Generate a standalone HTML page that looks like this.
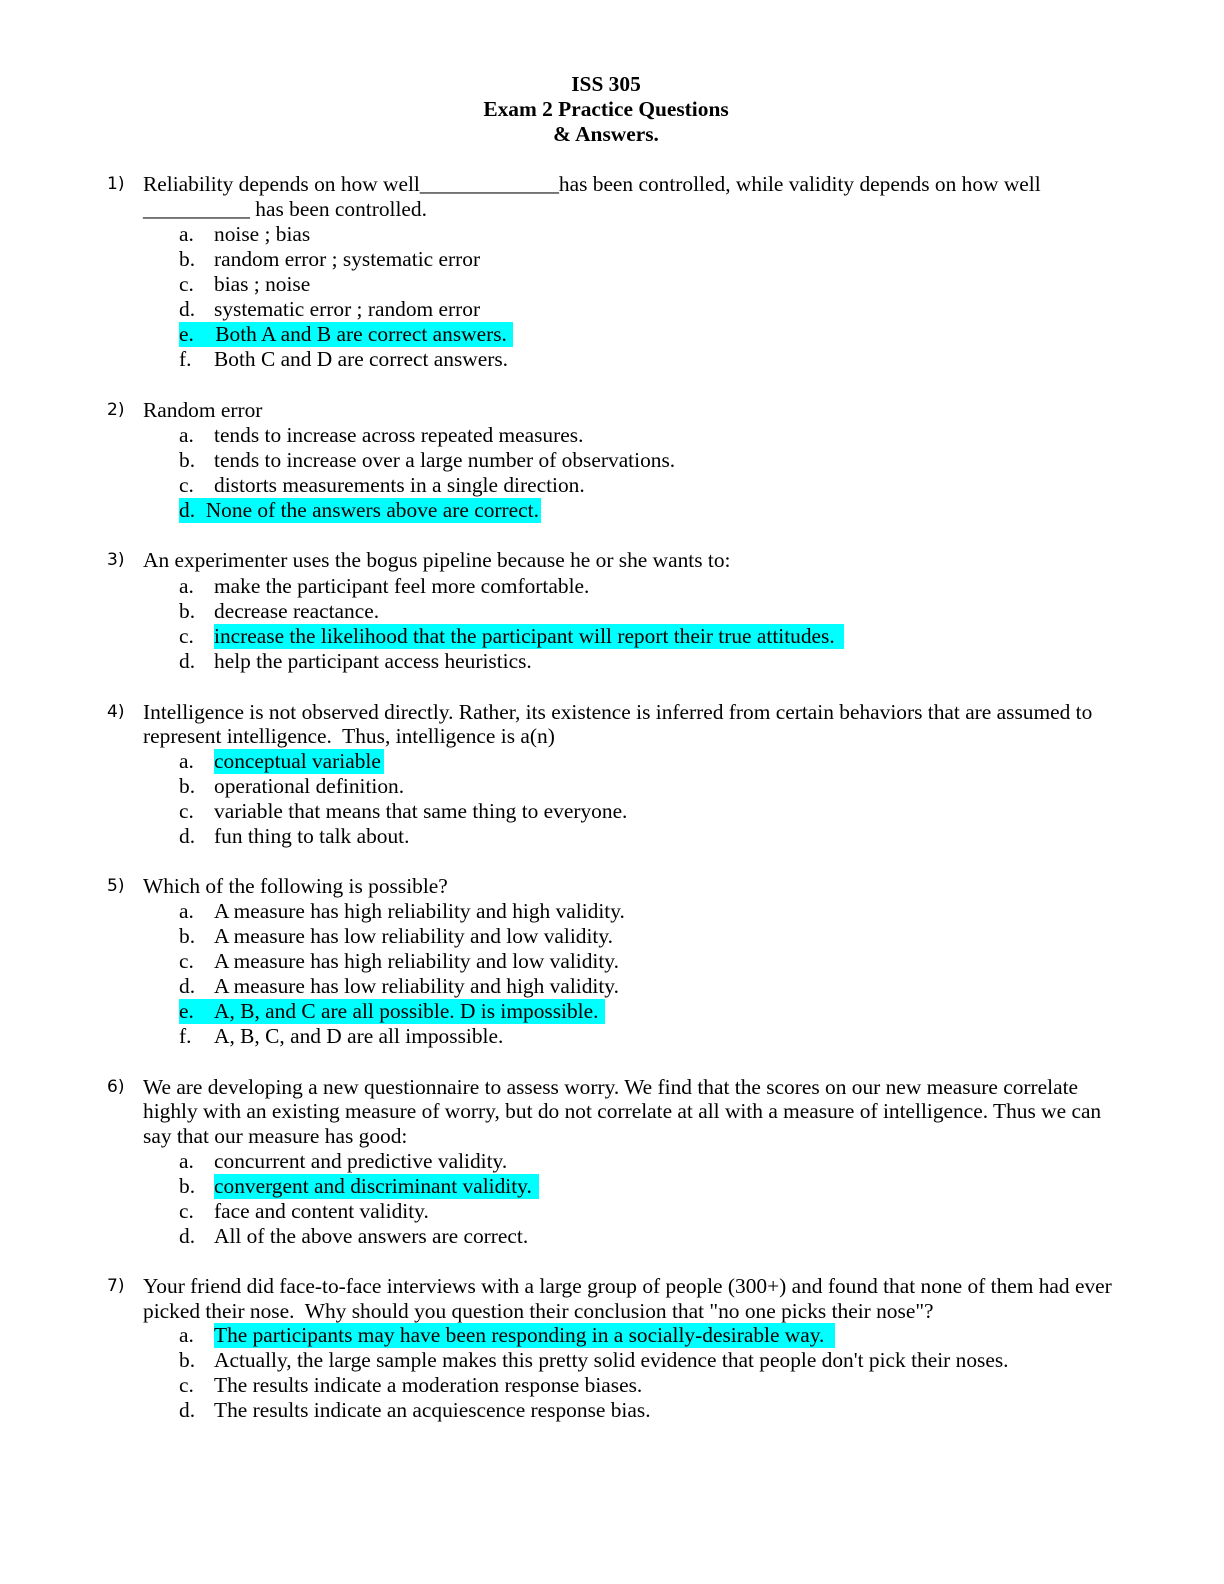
<!DOCTYPE html>
<html><head><meta charset="utf-8"><style>
html,body{margin:0;padding:0;background:#fff;}
body{width:1224px;height:1584px;position:relative;overflow:hidden;font-family:"Liberation Serif",serif;font-size:21.4px;color:#000;}
.l{position:absolute;white-space:pre;line-height:25px;height:25px;}
.t{left:0;width:1212px;text-align:center;font-weight:bold;}
.n{left:107px;font-family:"DejaVu Sans","Liberation Sans",sans-serif;font-size:17px;}
.q{left:143px;}
.a{left:179px;}
.o{left:214px;}
.h{background:#00ffff;}
</style></head><body>
<div class="l t" style="top:72px">ISS 305</div>
<div class="l t" style="top:97px">Exam 2 Practice Questions</div>
<div class="l t" style="top:122px">&amp; Answers.</div>

<div class="l n" style="top:172px">1)</div>
<div class="l q" style="top:172px">Reliability depends on how well_____________has been controlled, while validity depends on how well</div>
<div class="l q" style="top:197px">__________ has been controlled.</div>
<div class="l a" style="top:222px">a.</div><div class="l o" style="top:222px">noise ; bias</div>
<div class="l a" style="top:247px">b.</div><div class="l o" style="top:247px">random error ; systematic error</div>
<div class="l a" style="top:272px">c.</div><div class="l o" style="top:272px">bias ; noise</div>
<div class="l a" style="top:297px">d.</div><div class="l o" style="top:297px">systematic error ; random error</div>
<div class="l a h" style="top:322px;width:334px">e.    Both A and B are correct answers.</div>
<div class="l a" style="top:347px">f.</div><div class="l o" style="top:347px">Both C and D are correct answers.</div>

<div class="l n" style="top:398px">2)</div>
<div class="l q" style="top:398px">Random error</div>
<div class="l a" style="top:423px">a.</div><div class="l o" style="top:423px">tends to increase across repeated measures.</div>
<div class="l a" style="top:448px">b.</div><div class="l o" style="top:448px">tends to increase over a large number of observations.</div>
<div class="l a" style="top:473px">c.</div><div class="l o" style="top:473px">distorts measurements in a single direction.</div>
<div class="l a h" style="top:498px;width:362px">d.  None of the answers above are correct.</div>

<div class="l n" style="top:548px">3)</div>
<div class="l q" style="top:548px">An experimenter uses the bogus pipeline because he or she wants to:</div>
<div class="l a" style="top:574px">a.</div><div class="l o" style="top:574px">make the participant feel more comfortable.</div>
<div class="l a" style="top:599px">b.</div><div class="l o" style="top:599px">decrease reactance.</div>
<div class="l a" style="top:624px">c.</div><div class="l o h" style="top:624px;width:630px">increase the likelihood that the participant will report their true attitudes.</div>
<div class="l a" style="top:649px">d.</div><div class="l o" style="top:649px">help the participant access heuristics.</div>

<div class="l n" style="top:700px">4)</div>
<div class="l q" style="top:700px">Intelligence is not observed directly. Rather, its existence is inferred from certain behaviors that are assumed to</div>
<div class="l q" style="top:724px">represent intelligence.  Thus, intelligence is a(n)</div>
<div class="l a" style="top:749px">a.</div><div class="l o h" style="top:749px;width:170px">conceptual variable</div>
<div class="l a" style="top:774px">b.</div><div class="l o" style="top:774px">operational definition.</div>
<div class="l a" style="top:799px">c.</div><div class="l o" style="top:799px">variable that means that same thing to everyone.</div>
<div class="l a" style="top:824px">d.</div><div class="l o" style="top:824px">fun thing to talk about.</div>

<div class="l n" style="top:874px">5)</div>
<div class="l q" style="top:874px">Which of the following is possible?</div>
<div class="l a" style="top:899px">a.</div><div class="l o" style="top:899px">A measure has high reliability and high validity.</div>
<div class="l a" style="top:924px">b.</div><div class="l o" style="top:924px">A measure has low reliability and low validity.</div>
<div class="l a" style="top:949px">c.</div><div class="l o" style="top:949px">A measure has high reliability and low validity.</div>
<div class="l a" style="top:974px">d.</div><div class="l o" style="top:974px">A measure has low reliability and high validity.</div>
<div class="l a h" style="top:999px;width:426px">e.    A, B, and C are all possible. D is impossible.</div>
<div class="l a" style="top:1024px">f.</div><div class="l o" style="top:1024px">A, B, C, and D are all impossible.</div>

<div class="l n" style="top:1075px">6)</div>
<div class="l q" style="top:1075px">We are developing a new questionnaire to assess worry. We find that the scores on our new measure correlate</div>
<div class="l q" style="top:1099px">highly with an existing measure of worry, but do not correlate at all with a measure of intelligence. Thus we can</div>
<div class="l q" style="top:1124px">say that our measure has good:</div>
<div class="l a" style="top:1149px">a.</div><div class="l o" style="top:1149px">concurrent and predictive validity.</div>
<div class="l a" style="top:1174px">b.</div><div class="l o h" style="top:1174px;width:325px">convergent and discriminant validity.</div>
<div class="l a" style="top:1199px">c.</div><div class="l o" style="top:1199px">face and content validity.</div>
<div class="l a" style="top:1224px">d.</div><div class="l o" style="top:1224px">All of the above answers are correct.</div>

<div class="l n" style="top:1274px">7)</div>
<div class="l q" style="top:1274px">Your friend did face-to-face interviews with a large group of people (300+) and found that none of them had ever</div>
<div class="l q" style="top:1299px">picked their nose.  Why should you question their conclusion that "no one picks their nose"?</div>
<div class="l a" style="top:1323px">a.</div><div class="l o h" style="top:1323px;width:621px">The participants may have been responding in a socially-desirable way.</div>
<div class="l a" style="top:1348px">b.</div><div class="l o" style="top:1348px">Actually, the large sample makes this pretty solid evidence that people don't pick their noses.</div>
<div class="l a" style="top:1373px">c.</div><div class="l o" style="top:1373px">The results indicate a moderation response biases.</div>
<div class="l a" style="top:1398px">d.</div><div class="l o" style="top:1398px">The results indicate an acquiescence response bias.</div>
</body></html>
